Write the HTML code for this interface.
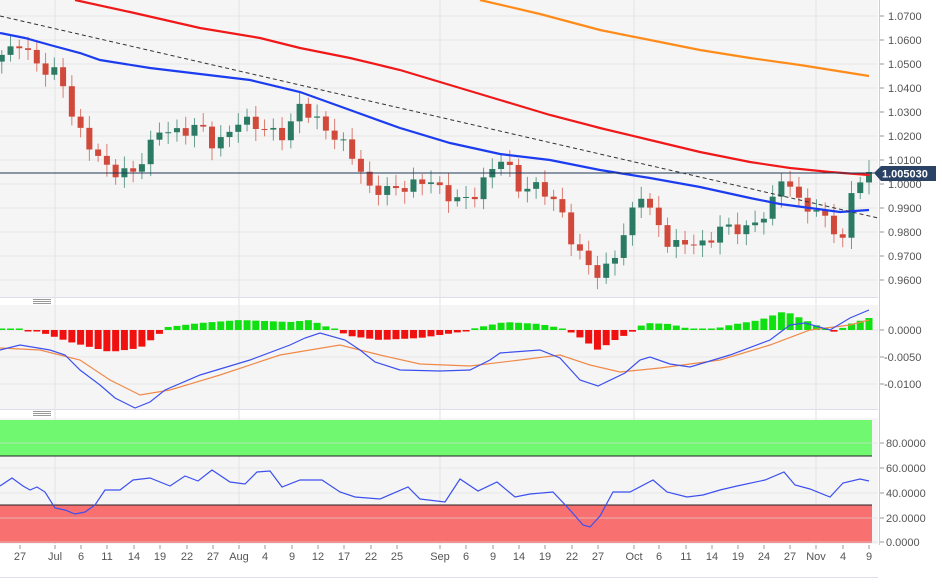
<!DOCTYPE html>
<html><head><meta charset="utf-8"><style>
html,body{margin:0;padding:0;background:#fff;}
svg{display:block;font-family:"Liberation Sans",sans-serif;}
</style></head><body>
<svg id="c" width="942" height="585" xmlns="http://www.w3.org/2000/svg"></svg>
<script>
const S=document.getElementById('c');let h='';
const PW=878;
// backgrounds
h+=`<rect x="0" y="0" width="${PW}" height="297" fill="#f5f5f5"/>`;
h+=`<rect x="0" y="305" width="${PW}" height="104" fill="#f5f5f5"/>`;
h+=`<rect x="0" y="418" width="${PW}" height="126" fill="#f5f5f5"/>`;
h+=`<line x1="0" y1="297.5" x2="${PW}" y2="297.5" stroke="#dde"/>`;
h+=`<line x1="0" y1="409.5" x2="${PW}" y2="409.5" stroke="#dde"/>`;
h+=`<line x1="0" y1="577.5" x2="${PW}" y2="577.5" stroke="#dde"/>`;
// handles
[301,413].forEach(y=>{h+=`<rect x="33" y="${y-2}" width="18" height="1" fill="#999"/><rect x="33" y="${y}" width="18" height="1" fill="#999"/><rect x="33" y="${y+2}" width="18" height="1" fill="#999"/>`});
// vertical grid
[55,239,440,634,816].forEach(x=>{h+=`<line x1="${x}" y1="0" x2="${x}" y2="544" stroke="#e2e2e2"/>`});
// price grid
const py=p=>16+(1.07-p)*2400;
for(let i=0;i<12;i++){const p=1.07-i*0.01,y=py(p);h+=`<line x1="0" y1="${y}" x2="${PW}" y2="${y}" stroke="#e6e6e6"/><line x1="879" y1="${y}" x2="884" y2="${y}" stroke="#999"/><text x="888" y="${y+4}" font-size="11" fill="#555">${p.toFixed(4)}</text>`;}
// MACD grid
[[330,'0.0000'],[357,'-0.0050'],[384,'-0.0100']].forEach(([y,t])=>{h+=`<line x1="0" y1="${y}" x2="${PW}" y2="${y}" stroke="#e6e6e6"/><line x1="879" y1="${y}" x2="884" y2="${y}" stroke="#999"/><text x="${t[0]=='-'?884:888}" y="${y+4}" font-size="11" fill="#555">${t}</text>`});
// RSI
h+=`<rect x="0" y="420" width="${PW-6}" height="36" fill="#70f870"/><line x1="0" y1="456" x2="${PW-6}" y2="456" stroke="#222"/>`;
h+=`<rect x="0" y="505" width="${PW-6}" height="38" fill="#f87070"/><line x1="0" y1="505" x2="${PW-6}" y2="505" stroke="#222"/>`;
[[443,'80.0000'],[468,'60.0000'],[493,'40.0000'],[518,'20.0000'],[542,'0.0000']].forEach(([y,t])=>{h+=`<line x1="0" y1="${y}" x2="${PW}" y2="${y}" stroke="#e0e0e0" opacity=".6"/><line x1="879" y1="${y}" x2="884" y2="${y}" stroke="#999"/><text x="886" y="${y+4}" font-size="11" fill="#555">${t}</text>`});
h+=`<line x1="879.5" y1="0" x2="879.5" y2="545" stroke="#ccc"/>`;
// interpolation helper
function interp(pts,x){if(x<=pts[0][0])return pts[0][1];for(let i=1;i<pts.length;i++){if(x<=pts[i][0]){const a=pts[i-1],b=pts[i];return a[1]+(b[1]-a[1])*(x-a[0])/(b[0]-a[0]);}}return pts[pts.length-1][1];}
const line=(pts,c,w,d)=>`<polyline points="${pts.map(p=>p.join(',')).join(' ')}" fill="none" stroke="${c}" stroke-width="${w}" ${d?'stroke-dasharray="'+d+'"':''}/>`;
// candles
const cp=[[5,1.0538],[20,1.059],[40,1.048],[60,1.046],[75,1.0245],[95,1.013],[110,1.005],[135,1.005],[160,1.023],[180,1.021],[200,1.025],[215,1.015],[240,1.027],[270,1.022],[285,1.020],[300,1.033],[320,1.025],[350,1.014],[370,0.9975],[400,0.998],[430,1.002],[445,0.995],[470,0.993],[490,1.005],[505,1.013],[515,0.998],[540,0.999],[560,0.990],[575,0.9725],[590,0.966],[600,0.961],[612,0.968],[625,0.980],[640,0.997],[655,0.985],[670,0.974],[690,0.976],[705,0.974],[720,0.982],[745,0.981],[760,0.985],[775,0.994],[785,1.0067],[795,0.993],[815,0.989],[830,0.984],[840,0.977],[845,0.975],[851,0.996],[860,1.002],[866,1.0075],[872,1.005]];
let prev=1.051;const N=100;
for(let i=0;i<N;i++){const x=869-(N-1-i)*8.76;let c=interp(cp,x)+Math.sin(i*2.3)*0.0022;if(i==N-1)c=1.005;const o=prev;prev=c;
 const up=c>=o,col=up?'#2b7a64':'#d0493a';const hi=Math.max(o,c)+0.002+Math.abs(Math.sin(i*1.7))*0.003,lo=Math.min(o,c)-0.002-Math.abs(Math.cos(i*1.3))*0.003;
 const yt=py(Math.max(o,c)),yb=py(Math.min(o,c));
 h+=`<line x1="${x}" y1="${py(hi)}" x2="${x}" y2="${py(lo)}" stroke="${col}" opacity=".7"/><rect x="${x-3}" y="${yt}" width="6" height="${Math.max(1,yb-yt)}" fill="${col}"/>`;}
// MAs
h+=line([[75,0],[130,12],[200,28],[260,38],[300,48],[350,58],[400,70],[450,85],[500,100],[550,115],[600,128],[650,140],[700,152],[750,162],[790,168],[830,172],[869,175]],'#f01818',2.2);
h+=line([[480,0],[540,14],[600,30],[650,40],[700,50],[750,58],[800,65],[869,76]],'#ff8c1a',2.2);
h+=line([[0,33],[25,38],[50,45],[80,53],[100,60],[150,68],[200,74],[250,80],[300,92],[350,110],[400,128],[450,143],[500,154],[550,160],[600,170],[650,178],[700,187],[750,198],[780,204],[810,208],[840,212],[869,210]],'#1c3cf0',2.2);
h+=line([[0,16],[878,218]],'#333',1,'4,3');
h+=`<line x1="0" y1="173" x2="${PW}" y2="173" stroke="#1f3558" stroke-width="1"/>`;
h+=`<polygon points="874,173 881,166 936,166 936,181 881,181" fill="#2a4263"/><text x="882" y="177.5" font-size="11" font-weight="bold" fill="#fff">1.005030</text>`;
// MACD histogram
const hp=[[0,0],[20,1],[40,-2],[70,-12],[110,-22],[140,-18],[158,-5],[168,3],[200,7],[240,10],[290,8],[310,10],[330,2],[350,-6],[380,-10],[420,-8],[460,-2],[480,3],[505,8],[540,6],[560,2],[575,-4],[598,-20],[615,-10],[632,-2],[645,7],[670,6],[690,1],[710,0],[730,5],[760,10],[785,19],[805,10],[820,3],[835,-2],[850,6],[869,12]];
for(let i=0;i<N;i++){const x=869-(N-1-i)*8.76;const v=interp(hp,x);const col=v>=0?'#10e010':'#f01010';const hgt=Math.max(1.5,Math.abs(v));h+=`<rect x="${x-3.5}" y="${v>=0?330-hgt:330}" width="7" height="${hgt}" fill="${col}"/>`;}
h+=line([[0,348],[40,350],[80,360],[110,380],[140,395],[170,390],[220,375],[280,355],[340,345],[380,355],[420,364],[470,366],[520,360],[560,355],[590,365],[620,372],[660,368],[720,360],[770,345],[810,330],[850,325],[869,320]],'#f08a4a',1.2);
h+=line([[0,350],[20,345],[50,350],[65,355],[80,370],[100,385],[115,398],[135,408],[150,402],[165,390],[200,375],[250,360],[290,345],[305,338],[320,333],[345,340],[360,350],[375,362],[400,370],[440,371],[470,370],[490,360],[500,353],[540,350],[560,358],[580,380],[598,386],[625,373],[640,360],[650,357],[670,364],[690,367],[730,355],[770,340],[790,325],[805,323],[830,330],[850,318],[869,310]],'#3c50f0',1.2);
// RSI
h+=line([[0,486],[12,478],[23,486],[30,490],[37,487],[45,492],[55,508],[65,510],[75,514],[85,512],[95,505],[105,490],[120,490],[133,480],[150,478],[170,486],[185,476],[198,481],[212,470],[230,482],[245,484],[257,472],[270,471],[282,487],[300,480],[322,480],[340,492],[355,497],[380,499],[408,487],[420,499],[445,502],[460,479],[478,491],[497,482],[515,497],[530,494],[553,492],[570,510],[583,525],[590,527],[600,516],[613,492],[630,492],[653,480],[667,492],[687,497],[703,495],[720,490],[737,486],[765,480],[784,472],[795,485],[810,489],[830,497],[843,483],[860,479],[869,481]],'#3c50f0',1.2);
// dates
[[20,'27'],[55,'Jul'],[81,'6'],[107,'11'],[134,'14'],[160,'19'],[187,'22'],[213,'27'],[239,'Aug'],[265,'4'],[292,'9'],[318,'12'],[344,'17'],[371,'22'],[397,'25'],[440,'Sep'],[466,'6'],[493,'9'],[519,'14'],[545,'19'],[572,'22'],[598,'27'],[634,'Oct'],[659,'6'],[686,'11'],[712,'14'],[738,'19'],[764,'24'],[790,'27'],[816,'Nov'],[843,'4'],[869,'9']].forEach(([x,t])=>{h+=`<line x1="${x}" y1="545" x2="${x}" y2="549" stroke="#999"/><text x="${x}" y="560" font-size="11" fill="#555" text-anchor="middle">${t}</text>`});
S.innerHTML=h;
</script>
</body></html>
